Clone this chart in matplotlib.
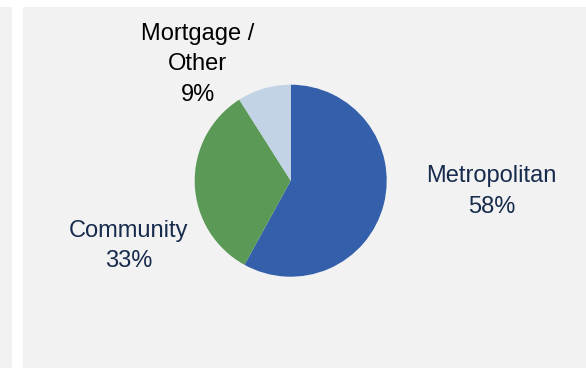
import matplotlib.pyplot as plt
from matplotlib.patches import Rectangle

# Loan portfolio split by segment
segments = ["Metropolitan", "Community", "Mortgage /\nOther"]
shares = [58, 33, 9]
colors = ["#345faa", "#5a9a56", "#c2d3e6"]
label_colors = ["#172b4d", "#172b4d", "#000000"]

# baseline of the last line of each label block (pie radius = 1)
label_pos = [(2.09, -0.336), (-1.69, -0.899), (-0.97, 0.833)]

plt.rcParams['font.family'] = ['Liberation Sans', 'DejaVu Sans']

W, H = 586, 368
fig = plt.figure(figsize=(W / 100, H / 100), dpi=100)
fig.patch.set_facecolor("white")

# grey panels behind the chart
fig.patches.append(Rectangle((0, 0), 12 / W, 361 / H, transform=fig.transFigure,
                             facecolor="#f2f2f2", edgecolor="none", zorder=-5))
fig.patches.append(Rectangle((23 / W, 0), (W - 23) / W, 361 / H, transform=fig.transFigure,
                             facecolor="#f2f2f2", edgecolor="none", zorder=-5))

cx, cy, r = 290.7, 180.7, 96
ax = fig.add_axes([(cx - r) / W, (H - cy - r) / H, 2 * r / W, 2 * r / H])
ax.pie(shares, colors=colors, startangle=90, counterclock=False, radius=1,
       wedgeprops=dict(linewidth=0))
ax.set_xlim(-1, 1)
ax.set_ylim(-1, 1)
ax.set_aspect("equal")
ax.axis("off")

for name, val, (x, y), c in zip(segments, shares, label_pos, label_colors):
    ax.text(x, y, f"{name}\n{val}%", ha="center", va="baseline", fontsize=17,
            color=c, linespacing=1.5, multialignment="center", clip_on=False)

fig.savefig("out.png", dpi=100)
